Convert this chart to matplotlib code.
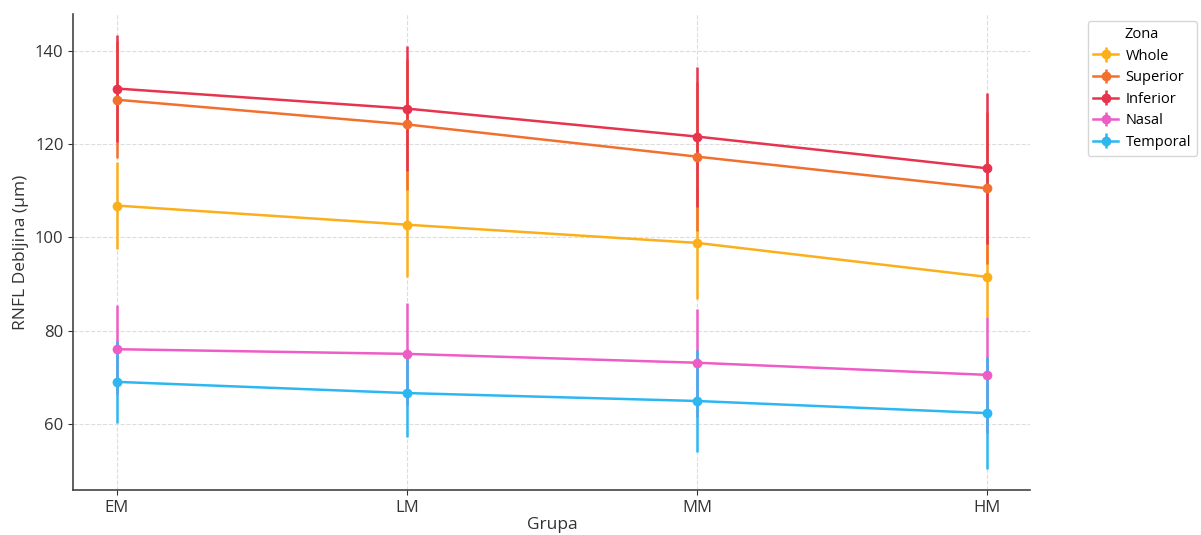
import matplotlib.pyplot as plt

plt.rcParams["font.family"] = ["Open Sans", "DejaVu Sans"]

groups = ["EM", "LM", "MM", "HM"]
zones = ["Whole", "Superior", "Inferior", "Nasal", "Temporal"]

whole_mean = [106.8, 102.7, 98.8, 91.5]
whole_sd = [9.3, 11.2, 12.0, 8.5]
superior_mean = [129.5, 124.2, 117.3, 110.5]
superior_sd = [12.5, 14.0, 16.0, 16.3]
inferior_mean = [131.9, 127.6, 121.6, 114.8]
inferior_sd = [11.5, 13.4, 15.0, 16.2]
nasal_mean = [76.0, 75.0, 73.1, 70.5]
nasal_sd = [9.5, 11.0, 11.6, 12.5]
temporal_mean = [69.0, 66.6, 64.9, 62.3]
temporal_sd = [8.8, 9.4, 10.9, 12.0]

colors = ["#FBAF1B", "#F2702E", "#E6344F", "#EE5CC6", "#2DB7F2"]


def plot_chart():
    means = [whole_mean, superior_mean, inferior_mean, nasal_mean, temporal_mean]
    sds = [whole_sd, superior_sd, inferior_sd, nasal_sd, temporal_sd]

    fig = plt.figure(figsize=(12.01, 5.35), dpi=100)
    ax = fig.add_axes([0.061, 0.084, 0.797, 0.89])
    x = list(range(len(groups)))
    for zone, m, s, c in zip(zones, means, sds, colors):
        ax.errorbar(x, m, yerr=s, label=zone, color=c, marker="o",
                    markersize=6, linewidth=1.8, elinewidth=1.8, capsize=0)

    ax.set_xticks(x)
    ax.set_xticklabels(groups)
    ax.set_yticks([60, 80, 100, 120, 140])
    ax.set_ylim(45.8, 147.9)
    ax.tick_params(labelsize=12, colors="#333333")
    ax.set_xlabel("Grupa", fontsize=12.5, color="#333333", labelpad=1)
    ax.set_ylabel("RNFL Debljina (µm)", fontsize=12.5, color="#333333")
    ax.grid(True, linestyle="--", color="#dddddd", linewidth=0.8)
    ax.set_axisbelow(True)
    for side in ["top", "right"]:
        ax.spines[side].set_visible(False)
    for side in ["left", "bottom"]:
        ax.spines[side].set_color("#444444")
        ax.spines[side].set_linewidth(1.2)

    leg = ax.legend(title="Zona", loc="upper left", bbox_to_anchor=(1.052, 1.0),
                    fontsize=10.5, title_fontsize=10.5, frameon=True,
                    handlelength=1.7, handletextpad=0.5, labelspacing=0.45,
                    borderpad=0.4)
    leg.get_frame().set_edgecolor("#cccccc")

    fig.savefig("out.png", dpi=100)


if __name__ == "__main__":
    plot_chart()
